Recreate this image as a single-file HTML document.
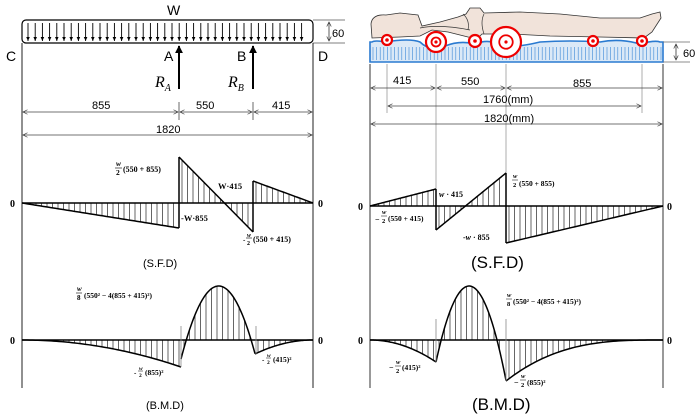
<!DOCTYPE html>
<html><head><meta charset="utf-8">
<style>
html,body{margin:0;padding:0;background:#fff;}
svg{display:block;}
.s{font-family:"Liberation Sans",sans-serif;}
.f{font-family:"Liberation Serif",serif;font-weight:bold;}
</style></head>
<body>
<svg id="g" width="700" height="416" viewBox="0 0 700 416" xmlns="http://www.w3.org/2000/svg">
<defs>
<marker id="ah" viewBox="0 0 10 10" refX="9" refY="5" markerWidth="7" markerHeight="7" orient="auto-start-reverse"><path d="M1,1 L9,5 L1,9" fill="none" stroke="#333" stroke-width="1.2"/></marker>
<marker id="sa" viewBox="0 0 10 10" refX="9" refY="5" markerWidth="5" markerHeight="5" orient="auto"><path d="M0,1 L9,5 L0,9Z" fill="#000"/></marker>
<marker id="ba" viewBox="0 0 10 10" refX="9" refY="5" markerWidth="4" markerHeight="4" orient="auto"><path d="M0,0 L10,5 L0,10Z" fill="#000"/></marker>
</defs>

<!-- LEFT TOP -->
<text x="167" y="15" class="s" font-size="14">W</text>
<rect x="22" y="20" width="291" height="23" rx="4" fill="none" stroke="#000" stroke-width="1.2"/>
<g id="loadArrows"></g>
<line x1="313" y1="20" x2="345" y2="20" stroke="#555" stroke-width="0.7"/>
<line x1="313" y1="43" x2="345" y2="43" stroke="#555" stroke-width="0.7"/>
<line x1="329" y1="22" x2="329" y2="41" stroke="#333" stroke-width="0.8" marker-start="url(#ah)" marker-end="url(#ah)"/>
<text x="332" y="37" class="s" font-size="11">60</text>
<text x="6" y="61" class="s" font-size="14">C</text>
<text x="164" y="61" class="s" font-size="14">A</text>
<text x="237" y="61" class="s" font-size="14">B</text>
<text x="318" y="61" class="s" font-size="14">D</text>
<line x1="179" y1="89" x2="179" y2="46" stroke="#000" stroke-width="2" marker-end="url(#ba)"/>
<line x1="253" y1="89" x2="253" y2="46" stroke="#000" stroke-width="2" marker-end="url(#ba)"/>
<text x="155" y="87" font-family="Liberation Serif,serif" font-size="16" font-style="italic">R<tspan font-size="10" dy="4">A</tspan></text>
<text x="228" y="87" font-family="Liberation Serif,serif" font-size="16" font-style="italic">R<tspan font-size="10" dy="4">B</tspan></text>
<line x1="22" y1="43" x2="22" y2="388" stroke="#222" stroke-width="1"/>
<line x1="313" y1="43" x2="313" y2="388" stroke="#222" stroke-width="1"/>
<line x1="179" y1="102" x2="179" y2="120" stroke="#444" stroke-width="0.8"/>
<line x1="253" y1="102" x2="253" y2="120" stroke="#444" stroke-width="0.8"/>
<line x1="23" y1="112" x2="178" y2="112" stroke="#444" stroke-width="0.8" marker-start="url(#ah)" marker-end="url(#ah)"/>
<line x1="180" y1="112" x2="252" y2="112" stroke="#444" stroke-width="0.8" marker-start="url(#ah)" marker-end="url(#ah)"/>
<line x1="254" y1="112" x2="312" y2="112" stroke="#444" stroke-width="0.8" marker-start="url(#ah)" marker-end="url(#ah)"/>
<line x1="23" y1="135" x2="312" y2="135" stroke="#444" stroke-width="0.8" marker-start="url(#ah)" marker-end="url(#ah)"/>
<text x="92" y="109" class="s" font-size="11">855</text>
<text x="196" y="109" class="s" font-size="11">550</text>
<text x="272" y="109" class="s" font-size="11">415</text>
<text x="156" y="133" class="s" font-size="11">1820</text>

<!-- RIGHT TOP -->
<path d="M372,38 L371,24 Q372,14 386,15 L400,13 L418,15 L422,26 L440,22 L458,17 L466,14 L470,8 L480,8 L484,13 L520,12 L560,14 L600,18 L640,18 L652,14 L660,12 L661,18 L652,32 L644,38 L600,37 L550,36 L512,34 L482,34 L478,38 L468,37 L448,32 L432,30 L420,36 L400,37 Z" fill="#f1e3da" stroke="#333" stroke-width="0.8"/>
<path d="M420,28 Q440,24 470,30" fill="none" stroke="#333" stroke-width="0.7"/>
<path d="M463,14 Q470,20 468,30 M484,14 Q480,22 484,34" fill="none" stroke="#333" stroke-width="0.7"/>
<path d="M372,42 Q375,40 385,42 Q410,38 420,42 Q430,52 445,46 Q460,40 475,44 Q490,38 500,46 Q515,48 540,42 Q570,40 600,42 Q620,38 640,44 Q655,40 660,42 L663,42 L663,62 L370,62 L370,42 Z" fill="#dbe9f7" stroke="#2a7ad0" stroke-width="1.6"/>
<g id="mstripes"></g>
<g id="circles"></g>
<line x1="663" y1="42" x2="690" y2="42" stroke="#666" stroke-width="0.7"/>
<line x1="663" y1="62" x2="690" y2="62" stroke="#666" stroke-width="0.7"/>
<line x1="676" y1="44" x2="676" y2="60" stroke="#333" stroke-width="0.8" marker-start="url(#ah)" marker-end="url(#ah)"/>
<text x="683" y="57" class="s" font-size="11">60</text>
<line x1="370" y1="64" x2="370" y2="388" stroke="#333" stroke-width="1"/>
<line x1="663" y1="64" x2="663" y2="388" stroke="#333" stroke-width="1"/>
<line x1="436" y1="64" x2="436" y2="190" stroke="#999" stroke-width="0.8"/>
<line x1="506" y1="64" x2="506" y2="173" stroke="#999" stroke-width="0.8"/>
<line x1="387" y1="64" x2="387" y2="113" stroke="#999" stroke-width="0.8"/>
<line x1="642" y1="64" x2="642" y2="113" stroke="#999" stroke-width="0.8"/>
<line x1="371" y1="88" x2="435" y2="88" stroke="#444" stroke-width="0.8" marker-start="url(#ah)" marker-end="url(#ah)"/>
<line x1="437" y1="88" x2="505" y2="88" stroke="#444" stroke-width="0.8" marker-start="url(#ah)" marker-end="url(#ah)"/>
<line x1="507" y1="88" x2="662" y2="88" stroke="#444" stroke-width="0.8" marker-start="url(#ah)" marker-end="url(#ah)"/>
<line x1="388" y1="106" x2="641" y2="106" stroke="#444" stroke-width="0.8" marker-start="url(#ah)" marker-end="url(#ah)"/>
<line x1="371" y1="124" x2="662" y2="124" stroke="#444" stroke-width="0.8" marker-start="url(#ah)" marker-end="url(#ah)"/>
<text x="393" y="84" class="s" font-size="11">415</text>
<text x="461" y="85" class="s" font-size="11">550</text>
<text x="573" y="87" class="s" font-size="11">855</text>
<text x="483" y="103" class="s" font-size="11">1760(mm)</text>
<text x="484" y="122" class="s" font-size="11">1820(mm)</text>

<g id="plots"></g>

<!-- LEFT SFD labels -->
<text x="10" y="207" class="f" font-size="10">0</text>
<text x="318" y="207" class="f" font-size="10">0</text>
<text x="116" y="166" class="f" font-size="7.5" font-style="italic">w</text>
<line x1="115" y1="168" x2="122" y2="168" stroke="#000" stroke-width="0.6"/>
<text x="116" y="175" class="f" font-size="7.5">2</text>
<text x="123" y="172" class="f" font-size="8">(550 + 855)</text>
<text x="218" y="189" class="f" font-size="8.5">W·415</text>
<text x="181" y="221" class="f" font-size="8.5">-W·855</text>
<text x="243" y="242" class="f" font-size="7">-</text>
<text x="247" y="237" class="f" font-size="6" font-style="italic">w</text>
<line x1="246" y1="238" x2="252" y2="238" stroke="#000" stroke-width="0.6"/>
<text x="247" y="245" class="f" font-size="6">2</text>
<text x="253" y="242" class="f" font-size="8">(550 + 415)</text>
<text x="143" y="267" class="s" font-size="11">(S.F.D)</text>

<!-- LEFT BMD labels -->
<text x="10" y="344" class="f" font-size="10">0</text>
<text x="318" y="344" class="f" font-size="10">0</text>
<text x="77" y="291" class="f" font-size="7" font-style="italic">w</text>
<line x1="76" y1="293" x2="82" y2="293" stroke="#000" stroke-width="0.6"/>
<text x="77" y="300" class="f" font-size="7">8</text>
<text x="84" y="298" class="f" font-size="7.5">(550² − 4(855 + 415)²)</text>
<text x="134" y="375" class="f" font-size="7">-</text>
<text x="139" y="370" class="f" font-size="5.5" font-style="italic">w</text>
<line x1="138" y1="371" x2="143" y2="371" stroke="#000" stroke-width="0.5"/>
<text x="139" y="377" class="f" font-size="5.5">2</text>
<text x="145" y="375" class="f" font-size="7.5">(855)²</text>
<text x="262" y="362" class="f" font-size="7">-</text>
<text x="267" y="357" class="f" font-size="5.5" font-style="italic">w</text>
<line x1="266" y1="358" x2="271" y2="358" stroke="#000" stroke-width="0.5"/>
<text x="267" y="364" class="f" font-size="5.5">2</text>
<text x="273" y="362" class="f" font-size="7.5">(415)²</text>
<text x="146" y="409" class="s" font-size="11">(B.M.D)</text>

<!-- RIGHT SFD labels -->
<text x="358" y="210" class="f" font-size="10" font-weight="normal">0</text>
<text x="667" y="210" class="f" font-size="10" font-weight="normal">0</text>
<text x="439" y="197" class="f" font-size="8" font-weight="normal" font-style="italic">w <tspan font-style="normal">· 415</tspan></text>
<text x="513" y="178" class="f" font-size="6.5" font-weight="normal" font-style="italic">w</text>
<line x1="512" y1="180" x2="518" y2="180" stroke="#000" stroke-width="0.5"/>
<text x="513" y="187" class="f" font-size="6.5" font-weight="normal">2</text>
<text x="519" y="186" class="f" font-size="7.5" font-weight="normal">(550 + 855)</text>
<text x="375" y="222" class="f" font-size="8" font-weight="normal">−</text>
<text x="382" y="214" class="f" font-size="6.5" font-weight="normal" font-style="italic">w</text>
<line x1="381" y1="216" x2="387" y2="216" stroke="#000" stroke-width="0.5"/>
<text x="382" y="223" class="f" font-size="6.5" font-weight="normal">2</text>
<text x="388" y="221" class="f" font-size="7.5" font-weight="normal">(550 + 415)</text>
<text x="463" y="240" class="f" font-size="8" font-weight="normal">-<tspan font-style="italic">w</tspan> · 855</text>
<text x="471" y="268" class="s" font-size="17">(S.F.D)</text>

<!-- RIGHT BMD labels -->
<text x="358" y="344" class="f" font-size="10" font-weight="normal">0</text>
<text x="667" y="344" class="f" font-size="10" font-weight="normal">0</text>
<text x="507" y="297" class="f" font-size="6.5" font-weight="normal" font-style="italic">w</text>
<line x1="506" y1="299" x2="512" y2="299" stroke="#000" stroke-width="0.5"/>
<text x="507" y="306" class="f" font-size="6.5" font-weight="normal">8</text>
<text x="513" y="304" class="f" font-size="7.5" font-weight="normal">(550² − 4(855 + 415)²)</text>
<text x="389" y="370" class="f" font-size="8" font-weight="normal">−</text>
<text x="396" y="364" class="f" font-size="6.5" font-weight="normal" font-style="italic">w</text>
<line x1="395" y1="366" x2="401" y2="366" stroke="#000" stroke-width="0.5"/>
<text x="396" y="373" class="f" font-size="6.5" font-weight="normal">2</text>
<text x="402" y="370" class="f" font-size="7.5" font-weight="normal">(415)²</text>
<text x="514" y="385" class="f" font-size="8" font-weight="normal">−</text>
<text x="521" y="378" class="f" font-size="6.5" font-weight="normal" font-style="italic">w</text>
<line x1="520" y1="380" x2="526" y2="380" stroke="#000" stroke-width="0.5"/>
<text x="521" y="387" class="f" font-size="6.5" font-weight="normal">2</text>
<text x="527" y="385" class="f" font-size="7.5" font-weight="normal">(855)²</text>
<text x="472" y="410" class="s" font-size="17">(B.M.D)</text>
</svg>
<script>
var NS="http://www.w3.org/2000/svg";
function el(p,t,a){var e=document.createElementNS(NS,t);for(var k in a)e.setAttribute(k,a[k]);p.appendChild(e);return e;}
var la=document.getElementById("loadArrows");
for(var x=28;x<=308;x+=7.2){el(la,"line",{x1:x,y1:23,x2:x,y2:41,stroke:"#000","stroke-width":0.9,"marker-end":"url(#sa)"});}
var ms=document.getElementById("mstripes");
for(var x=373;x<662;x+=3.6){el(ms,"line",{x1:x,y1:47,x2:x,y2:60,stroke:"#3b86d6","stroke-width":0.6});}
var ci=document.getElementById("circles");
[[387,40,5,0],[436,42,10,1],[475,41,6,0],[506,42,15,2],[593,41,5,0],[642,41,5,0]].forEach(function(c){
 el(ci,"circle",{cx:c[0],cy:c[1],r:c[2],fill:"#fff",stroke:"#e00","stroke-width":2.2});
 if(c[3]>=1)el(ci,"circle",{cx:c[0],cy:c[1],r:c[2]*0.45,fill:"none",stroke:"#e00","stroke-width":1.8});
 el(ci,"circle",{cx:c[0],cy:c[1],r:c[3]==0?1.8:1.6,fill:"#e00"});
});
var P=document.getElementById("plots");
function plot(segs,axisY,x0,x1){
 el(P,"line",{x1:x0,y1:axisY,x2:x1,y2:axisY,stroke:"#000","stroke-width":1.5});
 segs.forEach(function(s){
  var d="";for(var i=0;i<=60;i++){var x=s.a+(s.b-s.a)*i/60;d+=(i?"L":"M")+x.toFixed(2)+","+s.f(x).toFixed(2);}
  el(P,"path",{d:d,fill:"none",stroke:"#000","stroke-width":1.5});
  for(var x=s.a+3;x<s.b-1;x+=5.5){el(P,"line",{x1:x,y1:axisY,x2:x,y2:s.f(x),stroke:"#000","stroke-width":0.6});}
 });
}
function lin(xa,ya,xb,yb){return function(x){return ya+(yb-ya)*(x-xa)/(xb-xa);};}
plot([{a:22,b:179,f:lin(22,203,179,228)},{a:179,b:253,f:lin(179,157,253,232)},{a:253,b:313,f:lin(253,181,313,203)}],203,22,313);
el(P,"line",{x1:179,y1:157,x2:179,y2:228,stroke:"#000","stroke-width":1.5});
el(P,"line",{x1:253,y1:181,x2:253,y2:232,stroke:"#000","stroke-width":1.5});
plot([{a:370,b:436,f:lin(370,206,436,189)},{a:436,b:506,f:lin(436,230,506,173)},{a:506,b:663,f:lin(506,243,663,206)}],206,370,663);
el(P,"line",{x1:436,y1:189,x2:436,y2:230,stroke:"#000","stroke-width":1.5});
el(P,"line",{x1:506,y1:173,x2:506,y2:243,stroke:"#000","stroke-width":1.5});
plot([{a:22,b:181,f:function(x){var t=(x-22)/159;return 340+27*t*t;}},
 {a:181,b:255,f:function(x){return Math.min(367,0.0514*(x-218.7)*(x-218.7)+286);}},
 {a:255,b:313,f:function(x){var t=(313-x)/58;return 340+14*t*t;}}],340,22,313);
el(P,"line",{x1:181,y1:326,x2:181,y2:367,stroke:"#888","stroke-width":0.8});
el(P,"line",{x1:256,y1:326,x2:256,y2:354,stroke:"#888","stroke-width":0.8});
plot([{a:370,b:436,f:function(x){var t=(x-370)/66;return 340+22*t*t;}},
 {a:436,b:506,f:function(x){return 0.0694*(x-469.1)*(x-469.1)+286;}},
 {a:506,b:663,f:function(x){var t=(663-x)/157;return 340+41*Math.pow(t,3);}}],340,370,663);
el(P,"line",{x1:436,y1:319,x2:436,y2:362,stroke:"#888","stroke-width":0.8});
el(P,"line",{x1:506,y1:319,x2:506,y2:381,stroke:"#888","stroke-width":0.8});
</script>
</body></html>
